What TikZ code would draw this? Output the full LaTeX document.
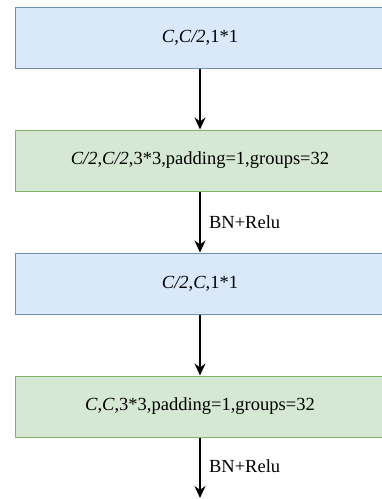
\documentclass[tikz,border=0pt]{standalone}
\usepackage{fontspec}
\setmainfont{Liberation Serif}
\usetikzlibrary{arrows.meta}
\definecolor{convblue}{HTML}{DAE8FC}
\definecolor{convblueline}{HTML}{6C8EBF}
\definecolor{convgreen}{HTML}{D5E8D4}
\definecolor{convgreenline}{HTML}{82B366}

\tikzset{
    convbox/.style={minimum width=370pt, minimum height=61pt, line width=1pt,
        font=\fontsize{18.5}{22}\selectfont},
    bluebox/.style={convbox, fill=convblue, draw=convblueline},
    greenbox/.style={convbox, fill=convgreen, draw=convgreenline},
    flow/.style={line width=1.5pt, -{Stealth[length=12pt, width=11pt]}},
    actlabel/.style={font=\fontsize{18.5}{22}\selectfont}
}

\begin{document}
\begin{tikzpicture}[x=1pt, y=-1pt]
    \useasboundingbox[fill=white] (0,0) rectangle (382,499);
    \clip (0,0) rectangle (382,499);

    % Bottleneck blocks
    \node[bluebox] (conv1) at (200,37.5) {\textit{C},\textit{C/2},1*1};
    \node[greenbox] (conv2) at (200,160.5) {\textit{C/2},\textit{C/2},3*3,padding=1,groups=32};
    \node[bluebox] (conv3) at (200,283.5) {\textit{C/2},\textit{C},1*1};
    \node[greenbox] (conv4) at (200,406.5) {\textit{C},\textit{C},3*3,padding=1,groups=32};
    \coordinate (out) at (200,498);

    % Connections
    \draw[flow] (conv1) -- (conv2);
    \draw[flow] (conv2) -- node[actlabel, right=5pt] {BN+Relu} (conv3);
    \draw[flow] (conv3) -- (conv4);
    \draw[flow] (conv4) -- node[actlabel, right=5pt, yshift=2pt] {BN+Relu} (out);
\end{tikzpicture}
\end{document}
